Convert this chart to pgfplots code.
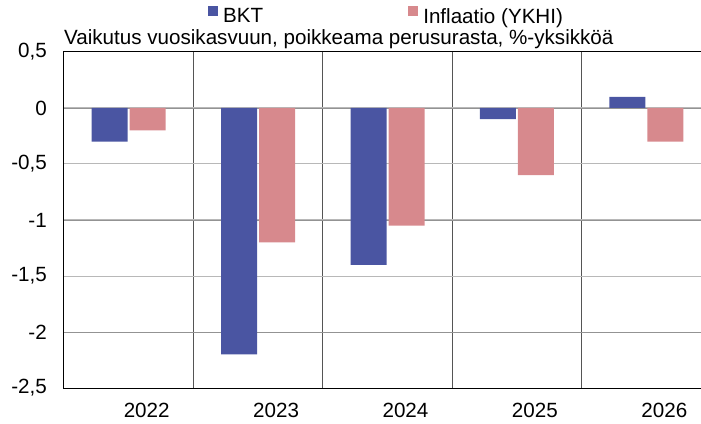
\documentclass[border=0pt]{standalone}
\usepackage{fontspec}
\setmainfont{Liberation Sans}
\usepackage{pgfplots}
\pgfplotsset{compat=1.18}
\definecolor{bkt}{HTML}{4A55A2}
\definecolor{infl}{HTML}{D7898D}
\definecolor{sep}{HTML}{555555}
\definecolor{hgrid}{HTML}{B8B8B8}

\pgfplotstableread{
x bkt infl
0 -0.30 -0.20
1 -2.20 -1.20
2 -1.40 -1.05
3 -0.10 -0.60
4 0.10 -0.30
}\effects

\begin{document}
\fontsize{20.6}{24}\selectfont
\begin{tikzpicture}
% page = 701 x 423, axis box starts at (64,35) from the bottom left
\useasboundingbox (-64pt,-35pt) rectangle (637pt,388pt);
\begin{axis}[
    at={(0pt,0pt)}, anchor=south west,
    scale only axis,
    width=647pt, height=336pt,
    xmin=-0.5, xmax=4.5,
    ymin=-2.5, ymax=0.5,
    ybar, bar width=36pt,
    xtick={0,1,2,3,4},
    xticklabels={2022,2023,2024,2025,2026},
    minor xtick={0.5,1.5,2.5,3.5},
    xminorgrids,
    minor grid style={draw=sep, line width=0.8pt},
    ytick={-2.5,-2,...,0.5},
    ymajorgrids,
    major grid style={draw=hgrid, line width=1pt},
    extra y ticks={-2,-1,0},
    extra y tick labels={},
    extra y tick style={major grid style={draw=gray!85, line width=0.9pt}},
    major tick length=0pt, minor tick length=0pt,
    axis line style={black, line width=1pt},
    /pgf/number format/.cd, use comma, assume math mode=true, fixed,
    /pgfplots/.cd,
    yticklabel style={anchor=east, inner sep=0pt, xshift=-17pt},
    xticklabel style={anchor=north, inner sep=0pt, yshift=-15pt, xshift=18pt},
    legend columns=2,
    legend style={draw=none, fill=none, at={(rel axis cs:0.218,1.107)}, anchor=west,
        nodes={inner sep=0pt},
        /tikz/every odd column/.append style={column sep=5pt},
        /tikz/every even column/.append style={column sep=145pt}},
    legend image code/.code={\fill[#1] (0pt,1.5pt) rectangle (10pt,11.5pt);},
    clip=false,
]
\addplot[fill=bkt, draw=none, bar shift=-19pt] table[x=x, y=bkt] {\effects};
\addlegendentry{BKT}
\addplot[fill=infl, draw=none, bar shift=19pt] table[x=x, y=infl] {\effects};
\addlegendentry{Inflaatio (YKHI)}
\node[anchor=base west, inner sep=0pt] at (rel axis cs:0,1) [yshift=7pt]
    {Vaikutus vuosikasvuun, poikkeama perusurasta, \%-yksikköä};
\end{axis}
\end{tikzpicture}
\end{document}
